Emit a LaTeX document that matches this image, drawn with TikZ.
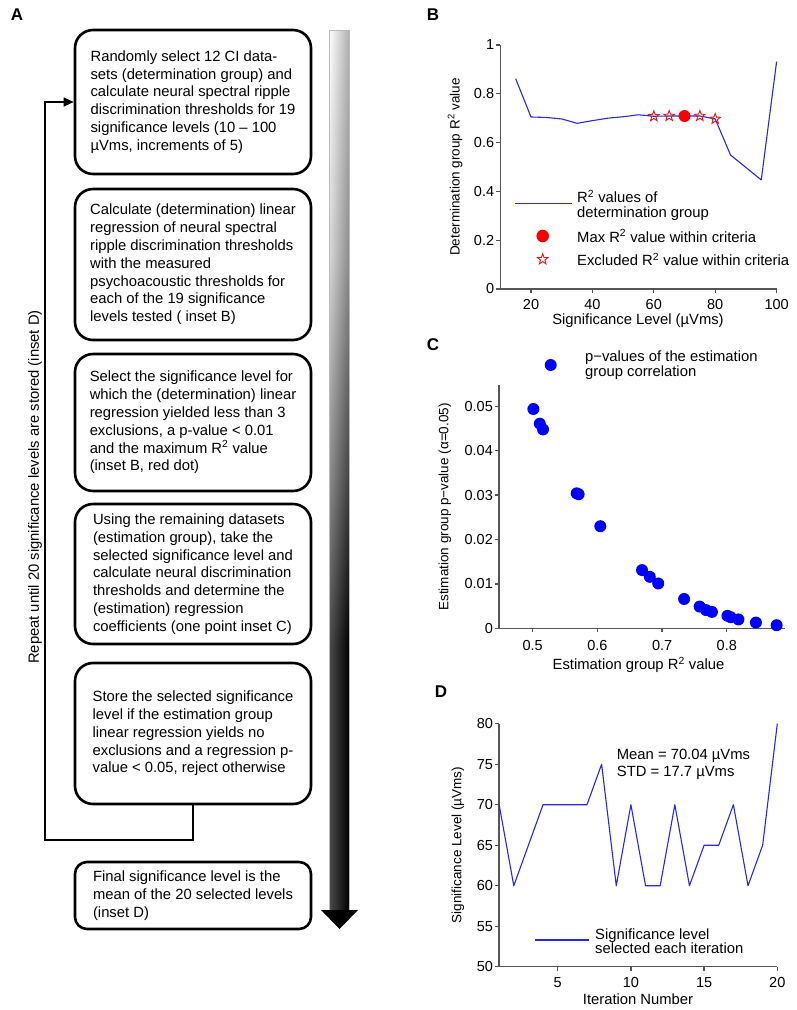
\documentclass[tikz,border=0pt]{standalone}
\usepackage{fontspec}
\setmainfont{Liberation Sans}
\usetikzlibrary{arrows.meta,shapes.geometric}
\definecolor{plotblue}{RGB}{40,40,225}
\definecolor{dotblue}{RGB}{0,0,255}
\definecolor{axisgray}{RGB}{85,85,85}
\definecolor{starred}{RGB}{230,20,20}
\newcommand{\pbx}[1]{469.6+3.07*(#1)}
\newcommand{\pby}[1]{289-244*(#1)}
\newcommand{\pcx}[1]{209.2+647*(#1)}
\newcommand{\pcy}[1]{628.3-4440*(#1)}
\newcommand{\pdx}[1]{484.5+14.64*(#1)}
\newcommand{\pdy}[1]{1371.7-8.1*(#1)}
\pgfdeclareverticalshading{gradarrow}{100bp}{color(0bp)=(black); color(40bp)=(black); color(50bp)=(black!62); color(62bp)=(black!22); color(75bp)=(white); color(100bp)=(white)}
\begin{document}
\begin{tikzpicture}[x=1pt,y=-1pt,
 stepbox/.style={draw, line width=2.6pt, rounded corners=18pt, minimum width=236pt, align=left, inner sep=0pt, font=\fontsize{14.8}{17.8}\selectfont},
 looplink/.style={line width=1.3pt, -{Triangle[length=10pt,width=9pt]}},
 panellab/.style={font=\bfseries\fontsize{17}{17}\selectfont, inner sep=0pt},
 axisline/.style={draw=axisgray, line width=1.3pt},
 ticklab/.style={font=\fontsize{14.5}{15}\selectfont, inner sep=0pt},
 axlab/.style={font=\fontsize{14.8}{15}\selectfont, inner sep=0pt},
 ylab/.style={font=\fontsize{13.5}{14}\selectfont, rotate=90, inner sep=0pt},
 legtext/.style={font=\fontsize{14.8}{15.2}\selectfont, align=left, anchor=west, inner sep=0pt},
 dataline/.style={draw=plotblue, line width=1.1pt, line join=round},
 starmark/.style={star, star points=5, star point ratio=2.4, draw=starred, line width=0.9pt, minimum size=11pt, inner sep=0pt}
]
\useasboundingbox (0,0) rectangle (797,1010);

% ---------------- Panel A ----------------
\node[panellab] (labA) at (17,15) {A};

\node[stepbox, minimum height=144pt] (b1) at (193,102) {Randomly select 12 CI data-\\sets (determination group) and\\calculate neural spectral ripple\\discrimination thresholds for 19\\significance levels (10 – 100\\µVms, increments of 5)};
\node[stepbox, minimum height=151pt] (b2) at (193,264.5) {Calculate (determination) linear\\regression of neural spectral\\ripple discrimination thresholds\\with the measured\\psychoacoustic thresholds for\\each of the 19 significance\\levels tested ( inset B)};
\node[stepbox, minimum height=137pt] (b3) at (193,422.5) {Select the significance level for\\which the (determination) linear\\regression yielded less than 3\\exclusions, a p-value < 0.01\\and the maximum R\textsuperscript{2} value\\(inset B, red dot)};
\node[stepbox, minimum height=140pt] (b4) at (193,574) {Using the remaining datasets\\(estimation group), take the\\selected significance level and\\calculate neural discrimination\\thresholds and determine the\\(estimation) regression\\coefficients (one point inset C)};
\node[stepbox, minimum height=141pt] (b5) at (193,733.5) {Store the selected significance\\level if the estimation group\\linear regression  yields no\\exclusions and a regression p-\\value < 0.05, reject otherwise};
\node[stepbox, minimum height=67pt, rounded corners=12pt] (b6) at (193,895.5) {Final significance level is the\\mean of the 20 selected levels\\(inset D)};

\coordinate (lpb) at (193,840);
\coordinate (lpl) at (45,840);
\draw[looplink] (b5.south) -- (lpb) -- (lpl) |- (b1.west);
\node[rotate=90, font=\fontsize{14.8}{17}\selectfont, inner sep=0pt] (rep) at (35,487) {Repeat until 20 significance levels are stored (inset D)};

% gradient arrow
\shade[shading=gradarrow] (329,30) rectangle (349,910);
\shade[left color=white, right color=black, opacity=0.3] (329,30) rectangle (349,910);
\draw[gray!55, line width=0.5pt] (329,910) -- (329,30) -- (349,30) -- (349,910);
\fill[black] (321,910) -- (358,910) -- (339.5,929) -- cycle;

% ---------------- Panel B ----------------
\node[panellab] (labB) at (433,15) {B};
\draw[axisline] ({\pbx{10}},{\pby{1}}) -- ({\pbx{10}},{\pby{0}}) -- ({\pbx{100}},{\pby{0}});
\foreach \v [count=\i] in {0,0.2,0.4,0.6,0.8,1} {
  \draw[axisline] ({\pbx{10}},{\pby{\v}}) -- ++(-4,0);
  \node[ticklab, anchor=east] (bty\i) at ({\pbx{10}-6},{\pby{\v}}) {\v};
}
\foreach \v [count=\i] in {20,40,60,80,100} {
  \draw[axisline] ({\pbx{\v}},{\pby{0}}) -- ++(0,4);
  \node[ticklab] (btx\i) at ({\pbx{\v}},305) {\v};
}
\draw[dataline] ({\pbx{15}},{\pby{0.862}}) \foreach \x/\y in {20/0.705,25/0.703,30/0.697,35/0.679,40/0.690,45/0.700,50/0.706,55/0.714,60/0.708,65/0.709,70/0.709,75/0.709,80/0.697,85/0.549,90/0.498,95/0.447,100/0.932} { -- ({\pbx{\x}},{\pby{\y}}) };
\foreach \x/\y [count=\i] in {60/0.708,65/0.709,75/0.709,80/0.697} \node[starmark] (bs\i) at ({\pbx{\x}},{\pby{\y}}) {};
\fill[red] ({\pbx{70}},{\pby{0.709}}) circle[radius=6pt];
% legend B
\draw[dataline] (515,203.3) -- (571.7,203.3);
\node[legtext] (blg1) at (577,205.5) {R\textsuperscript{2} values of\\determination group};
\fill[red] (542.7,236) circle[radius=6.3pt];
\node[legtext] (blg2) at (577,236) {Max R\textsuperscript{2} value within criteria};
\node[starmark] (blgs) at (542.7,259.3) {};
\node[legtext] (blg3) at (577,259.3) {Excluded R\textsuperscript{2} value within criteria};
\node[axlab] (bxl) at (638,321) {Significance Level (µVms)};
\node[ylab] (byl) at (455,167) {Determination group R\textsuperscript{2} value};

% ---------------- Panel C ----------------
\node[panellab] (labC) at (433,345) {C};
\draw[axisline] ({\pcx{0.448}},385) -- ({\pcx{0.448}},{\pcy{0}}) -- (785,{\pcy{0}});
\foreach \v [count=\i] in {0,0.01,0.02,0.03,0.04,0.05} {
  \draw[axisline] ({\pcx{0.448}},{\pcy{\v}}) -- ++(-4,0);
  \node[ticklab, anchor=east] (cty\i) at ({\pcx{0.448}-6},{\pcy{\v}}) {\v};
}
\foreach \v [count=\i] in {0.5,0.6,0.7,0.8} {
  \draw[axisline] ({\pcx{\v}},{\pcy{0}}) -- ++(0,4);
  \node[ticklab] (ctx\i) at ({\pcx{\v}},645) {\v};
}
\foreach \x/\y in {0.501/0.0494,0.511/0.0461,0.516/0.0448,0.568/0.0304,0.571/0.0302,0.6045/0.0230,0.669/0.0131,0.681/0.0116,0.694/0.0101,0.734/0.0066,0.758/0.0049,0.768/0.0041,0.777/0.0037,0.801/0.0028,0.806/0.0025,0.818/0.0020,0.845/0.0013,0.877/0.0007}
  \fill[dotblue] ({\pcx{\x}},{\pcy{\y}}) circle[radius=6pt];
\fill[dotblue] (550.7,365) circle[radius=6pt];
\node[legtext] (clg) at (585,365.3) {p−values of the estimation\\group correlation};
\node[axlab] (cxl) at (638.5,665) {Estimation group R\textsuperscript{2} value};
\node[ylab] (cyl) at (445,507) {Estimation group p−value (α=0.05)};

% ---------------- Panel D ----------------
\node[panellab] (labD) at (441,692) {D};
\draw[axisline] ({\pdx{1}},{\pdy{80}}) -- ({\pdx{1}},{\pdy{50}}) -- ({\pdx{20}},{\pdy{50}});
\foreach \v [count=\i] in {50,55,60,65,70,75,80} {
  \draw[axisline] ({\pdx{1}},{\pdy{\v}}) -- ++(-4,0);
  \node[ticklab, anchor=east] (dty\i) at ({\pdx{1}-6},{\pdy{\v}}) {\v};
}
\foreach \v [count=\i] in {5,10,15,20} {
  \draw[axisline] ({\pdx{\v}},{\pdy{50}}) -- ++(0,4);
  \node[ticklab] (dtx\i) at ({\pdx{\v}},982.7) {\v};
}
\draw[dataline] ({\pdx{1}},{\pdy{70}}) \foreach \x/\y in {2/60,3/65,4/70,5/70,6/70,7/70,8/75,9/60,10/70,11/60,12/60,13/70,14/60,15/65,16/65,17/70,18/60,19/65,20/80} { -- ({\pdx{\x}},{\pdy{\y}}) };
\node[legtext, font=\fontsize{14.8}{16.7}\selectfont] (dann) at (616.7,764.3) {Mean = 70.04 µVms\\STD = 17.7 µVms};
\draw[dataline] (535,940) -- (589.3,940);
\node[legtext, font=\fontsize{14.8}{14.5}\selectfont] (dlg) at (595,941) {Significance level\\selected each iteration};
\node[axlab] (dxl) at (638,999) {Iteration Number};
\node[ylab] (dyl) at (458,845) {Significance Level (µVms)};
\end{tikzpicture}
\end{document}
